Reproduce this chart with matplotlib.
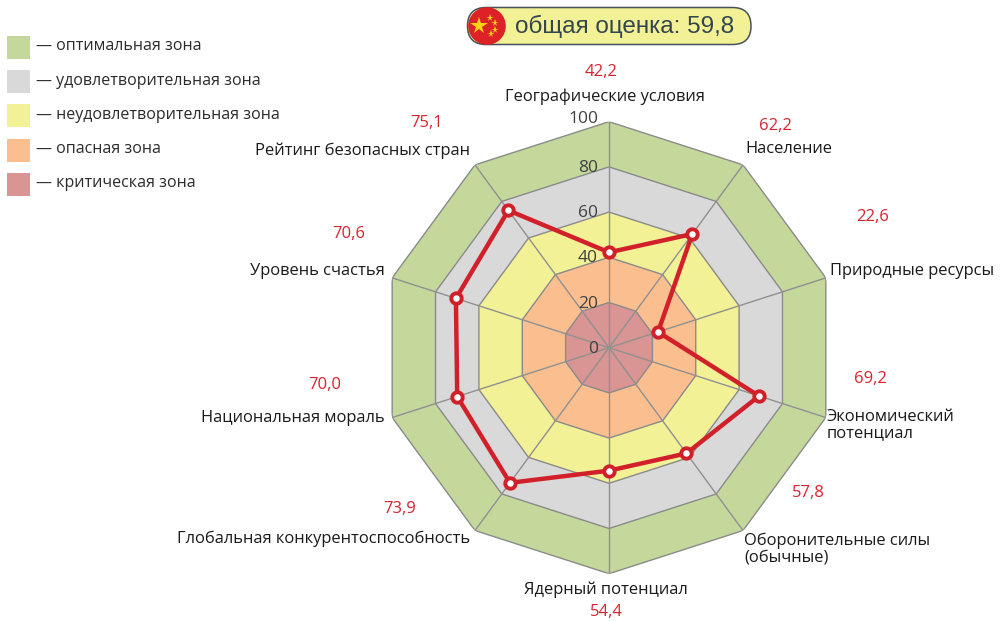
import numpy as np
import matplotlib
matplotlib.use("Agg")
import matplotlib.pyplot as plt
from matplotlib.patches import FancyBboxPatch, Circle, Rectangle

plt.rcParams['font.family'] = ['Open Sans', 'DejaVu Sans']

categories = ["Географические условия", "Население", "Природные ресурсы",
              "Экономический\nпотенциал", "Оборонительные силы\n(обычные)",
              "Ядерный потенциал", "Глобальная конкурентоспособность",
              "Национальная мораль", "Уровень счастья", "Рейтинг безопасных стран"]
values = [42.2, 62.2, 22.6, 69.2, 57.8, 54.4, 73.9, 70.0, 70.6, 75.1]
value_labels = ["42,2", "62,2", "22,6", "69,2", "57,8", "54,4", "73,9", "70,0", "70,6", "75,1"]
zone_limits = [100, 80, 60, 40, 20]
zone_colors = ["#c5d89b", "#d9d9d9", "#f3f196", "#fbbf8f", "#d99594"]
zone_names = ["оптимальная зона", "удовлетворительная зона", "неудовлетворительная зона",
              "опасная зона", "критическая зона"]
ticks = [100, 80, 60, 40, 20, 0]
total = "общая оценка: 59,8"

W, H = 1003, 621
cx, cy, Rx, Ry = 609, 347.7, 228, 226

fig = plt.figure(figsize=(W / 100, H / 100), dpi=100)

# radar part
ax = fig.add_axes([(cx - Rx) / W, 1 - (cy + Ry) / H, 2 * Rx / W, 2 * Ry / H], projection='polar')
ax.set_aspect('auto')
ax.set_theta_zero_location('N')
ax.set_theta_direction(-1)
ax.set_ylim(0, 100)
ax.axis('off')
angles = np.arange(len(values)) * 2 * np.pi / len(values)
closed = np.append(angles, angles[0])
for lim, col in zip(zone_limits, zone_colors):
    ax.fill(closed, [lim] * len(closed), facecolor=col, edgecolor='#8a8a8a', lw=1.0, zorder=1)
for a in angles:
    ax.plot([a, a], [0, 100], color='#909090', lw=1.0, zorder=2)
ax.plot(closed, values + values[:1], color='#d2202a', lw=3.2, zorder=3, clip_on=False)
ax.plot(angles, values, ls='none', marker='o', ms=7.5, mfc='white', mec='#d2202a', mew=2.8,
        zorder=4, clip_on=False)

# overlay in pixels for legend and labels
ov = fig.add_axes([0, 0, 1, 1])
ov.set_xlim(0, W)
ov.set_ylim(H, 0)
ov.axis('off')
ov.patch.set_alpha(0)

for i, (name, col) in enumerate(zip(zone_names, zone_colors)):
    y = 36 + i * 34.2
    ov.add_patch(Rectangle((7, y), 23, 23, facecolor=col, edgecolor='none'))
    ov.text(36, y + 10.5, "— " + name, fontsize=11.5, color='#2b2b2b', va='center', ha='left')

for t in ticks:
    ov.text(598, cy - t * Ry / 100 + (1 if t < 100 else -3), str(t), fontsize=12.5, color='#404040',
            ha='right', va='center')

label_pos = [(605, 97, 'center'), (745, 149, 'left'), (830, 271, 'left'), (827, 425, 'left'),
             (744, 549, 'left'), (606, 590, 'center'), (470, 539, 'right'), (385, 418, 'right'),
             (385, 271, 'right'), (470, 151, 'right')]
for name, (x, y, ha) in zip(categories, label_pos):
    ov.text(x, y, name, fontsize=11.85, color='#1a1a1a', ha=ha, va='center', linespacing=1.05)

value_pos = [(601, 72), (775, 126), (873, 217), (870, 379), (808, 493),
             (606, 612), (400, 509), (325, 385), (349, 234), (427, 123)]
for lab, (x, y) in zip(value_labels, value_pos):
    ov.text(x, y, lab, fontsize=12, color='#d8232f', ha='center', va='center')

# badge with flag
ov.add_patch(FancyBboxPatch((467.5, 7.5), 283.5, 37, boxstyle="round,pad=0,rounding_size=18.5",
                            facecolor='#f3f196', edgecolor='#46525a', lw=1.1))
ov.add_patch(Circle((487, 26), 18.8, facecolor='#dc2127', edgecolor='none', zorder=3))
ov.plot([479], [26], marker='*', ms=13, color='#fcd116', mew=0, zorder=4)
ov.plot([490, 495, 495, 491], [18, 23, 30, 34], ls='none', marker='*', ms=5.5, color='#fcd116', mew=0, zorder=4)
ov.text(515, 26.5, total, family='Liberation Sans', fontsize=17.5, color='#33454f', ha='left', va='center')

fig.savefig("out.png", dpi=100)
